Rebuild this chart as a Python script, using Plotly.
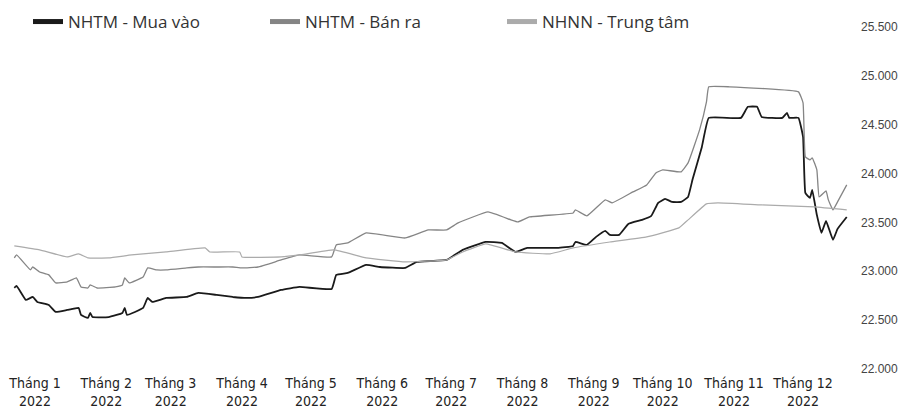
import plotly.graph_objects as go

# NHTM - Mua vào (commercial bank buying rate)
buy_dates = ["2021-12-23","2021-12-24","2021-12-28","2021-12-31","2022-01-02","2022-01-07","2022-01-10","2022-01-15",
             "2022-01-20","2022-01-21","2022-01-24","2022-01-25","2022-01-26","2022-02-02","2022-02-08","2022-02-09",
             "2022-02-10","2022-02-17","2022-02-19","2022-02-21","2022-02-27","2022-03-08","2022-03-13","2022-03-21",
             "2022-03-28","2022-04-03","2022-04-08","2022-04-18","2022-04-26","2022-05-10","2022-05-12","2022-05-17",
             "2022-05-25","2022-05-31","2022-06-11","2022-06-16","2022-06-29","2022-07-06","2022-07-16","2022-07-23",
             "2022-07-29","2022-08-03","2022-08-16","2022-08-23","2022-08-24","2022-08-29","2022-09-02","2022-09-06",
             "2022-09-08","2022-09-12","2022-09-16","2022-09-22","2022-09-26","2022-09-29","2022-10-02","2022-10-05",
             "2022-10-09","2022-10-12","2022-10-14","2022-10-18","2022-10-21","2022-11-04","2022-11-07","2022-11-11",
             "2022-11-13","2022-11-22","2022-11-24","2022-11-25","2022-11-29","2022-12-01","2022-12-02","2022-12-04",
             "2022-12-05","2022-12-07","2022-12-09","2022-12-11","2022-12-14","2022-12-16","2022-12-20"]
buy_values = [22830,22850,22707,22737,22686,22655,22584,22604,
              22625,22553,22522,22573,22532,22532,22573,22625,
              22553,22625,22727,22686,22727,22737,22778,22758,
              22737,22727,22737,22809,22840,22819,22963,22983,
              23065,23044,23034,23096,23116,23219,23300,23290,
              23198,23239,23239,23260,23300,23270,23352,23413,
              23372,23372,23485,23526,23567,23700,23741,23710,
              23710,23761,23945,24273,24570,24570,24683,24683,
              24580,24570,24621,24570,24570,24376,23802,23751,
              23833,23577,23393,23516,23321,23434,23556]

# NHTM - Bán ra (commercial bank selling rate)
sell_dates = ["2021-12-23","2021-12-24","2021-12-30","2021-12-31","2022-01-03","2022-01-07","2022-01-10","2022-01-15",
              "2022-01-19","2022-01-21","2022-01-24","2022-01-25","2022-01-28","2022-02-05","2022-02-08","2022-02-09",
              "2022-02-11","2022-02-17","2022-02-19","2022-02-23","2022-02-27","2022-03-08","2022-03-13","2022-03-21",
              "2022-03-28","2022-04-01","2022-04-08","2022-04-18","2022-04-26","2022-05-10","2022-05-12","2022-05-17",
              "2022-05-25","2022-06-11","2022-06-21","2022-06-29","2022-07-04","2022-07-17","2022-07-27","2022-07-30",
              "2022-08-04","2022-08-23","2022-08-24","2022-08-29","2022-09-06","2022-09-09","2022-09-18","2022-09-24",
              "2022-09-28","2022-10-01","2022-10-09","2022-10-12","2022-10-17","2022-10-20","2022-10-21","2022-10-30",
              "2022-11-29","2022-12-01","2022-12-02","2022-12-04","2022-12-05","2022-12-07","2022-12-08","2022-12-11",
              "2022-12-12","2022-12-14","2022-12-16","2022-12-20"]
sell_values = [23137,23167,23014,23044,22993,22963,22881,22891,
               22932,22840,22829,22860,22829,22840,22860,22932,
               22881,22942,23034,23014,23014,23034,23044,23044,
               23044,23034,23044,23116,23167,23147,23270,23290,
               23393,23341,23423,23423,23495,23608,23526,23505,
               23556,23597,23628,23567,23731,23700,23812,23884,
               24007,24038,24017,24109,24447,24734,24888,24888,
               24836,24724,24171,24140,24161,24038,23761,23822,
               23731,23628,23710,23884]

# NHNN - Trung tâm (State Bank central rate)
central_dates = ["2021-12-23","2022-01-03","2022-01-15","2022-01-20","2022-01-24","2022-02-02","2022-02-12","2022-02-27",
                 "2022-03-16","2022-03-18","2022-03-31","2022-04-01","2022-04-18","2022-04-26","2022-05-11","2022-05-25",
                 "2022-06-11","2022-06-29","2022-07-06","2022-07-16","2022-07-29","2022-08-13","2022-08-23","2022-09-08",
                 "2022-09-24","2022-10-08","2022-10-12","2022-10-20","2022-10-25","2022-11-13","2022-12-06","2022-12-20"]
central_values = [23260,23219,23147,23178,23137,23137,23167,23198,
                  23239,23198,23198,23147,23147,23167,23219,23137,
                  23096,23116,23198,23280,23198,23178,23239,23300,
                  23352,23444,23526,23690,23700,23679,23659,23628]

month_ticks = ["2022-%02d-01" % m for m in range(1, 13)]
month_labels = ["Tháng %d<br>2022" % m for m in range(1, 13)]
y_ticks = [22000, 22500, 23000, 23500, 24000, 24500, 25000, 25500]

fig = go.Figure()
fig.add_trace(go.Scatter(x=buy_dates, y=buy_values, mode="lines", name="NHTM - Mua vào",
                         line=dict(color="#1a1a1a", width=1.8, shape="spline", smoothing=0.3)))
fig.add_trace(go.Scatter(x=sell_dates, y=sell_values, mode="lines", name="NHTM - Bán ra",
                         line=dict(color="#858585", width=1.3, shape="spline", smoothing=0.3)))
fig.add_trace(go.Scatter(x=central_dates, y=central_values, mode="lines", name="NHNN - Trung tâm",
                         line=dict(color="#ababab", width=1.2, shape="spline", smoothing=0.3)))

fig.update_layout(
    width=908, height=419,
    margin=dict(l=10, r=58, t=27, b=50, autoexpand=False),
    paper_bgcolor="white", plot_bgcolor="white",
    separators=",.",
    showlegend=True,
    legend=dict(orientation="h", xref="container", yref="container",
                x=28 / 908, xanchor="left", y=1 - 22 / 419, yanchor="middle",
                font=dict(family="Open Sans, Lato, sans-serif", size=17, color="#333333"),
                entrywidth=192, entrywidthmode="pixels", bgcolor="rgba(0,0,0,0)",
                itemsizing="constant", tracegroupgap=0),
    xaxis=dict(type="date", range=["2021-12-21 03:00", "2022-12-21 10:00"],
               tickvals=month_ticks, ticktext=month_labels, tickangle=0,
               showgrid=False, zeroline=False, showline=False, ticks="",
               ticklabelstandoff=4,
               tickfont=dict(family="Liberation Sans Narrow, DejaVu Sans Condensed, Roboto Condensed, sans-serif",
                             size=14, color="#222222")),
    yaxis=dict(range=[22000, 25500], side="right", tickvals=y_ticks, tickformat=",",
               showgrid=False, zeroline=False, showline=False, ticks="",
               ticklabelstandoff=10,
               tickfont=dict(family="Liberation Sans, Arial, sans-serif", size=12, color="#444444")),
)

fig.write_html("out.html", config={"displayModeBar": False},
               post_script="document.body.style.margin='0';document.body.style.overflow='hidden';")
